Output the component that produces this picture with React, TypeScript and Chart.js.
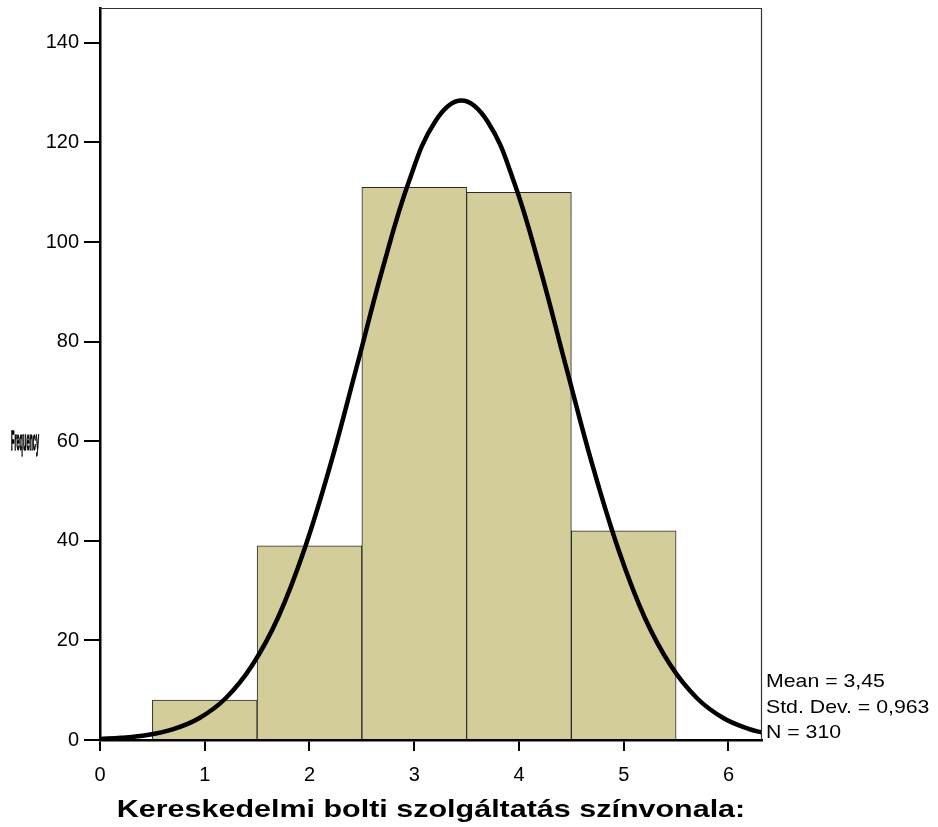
import React, { useEffect, useRef } from "react";
import { Chart, registerables } from "chart.js";

Chart.register(...registerables);

const binCenters = [1, 2, 3, 4, 5];
const binCounts = [8, 39, 111, 110, 42];

const curveX = [0, 0.2, 0.45, 0.7, 0.95, 1.2, 1.45, 1.7, 1.95, 2.2, 2.45, 2.7, 2.95, 3.2, 3.45, 3.7, 3.95, 4.2, 4.45, 4.7, 4.95, 5.2, 5.45, 5.7, 5.95, 6.2, 6.32];
const curveY = [0.21, 0.43, 1.0, 2.18, 4.42, 8.38, 14.9, 24.6, 38.2, 55.3, 74.9, 94.8, 112.2, 124.2, 128.4, 124.2, 112.2, 94.8, 74.9, 55.3, 38.2, 24.6, 14.9, 8.38, 4.42, 2.18, 1.51];

const statsLines = ["Mean = 3,45", "Std. Dev. = 0,963", "N = 310"];
const xTitle = "Kereskedelmi bolti szolgáltatás színvonala:";
const yTitle = "Frequency";

const FONT = "Arial, 'Liberation Sans', sans-serif";

const extrasPlugin = {
  id: "extras",
  afterDraw(chart: any) {
    const { ctx, chartArea } = chart;
    ctx.save();
    // top / right frame
    ctx.strokeStyle = "#333";
    ctx.lineWidth = 1.2;
    ctx.beginPath();
    ctx.moveTo(chartArea.left, chartArea.top + 0.5);
    ctx.lineTo(chartArea.right - 0.5, chartArea.top + 0.5);
    ctx.lineTo(chartArea.right - 0.5, chartArea.bottom);
    ctx.stroke();
    // stats text (horizontally stretched)
    ctx.fillStyle = "#000";
    ctx.font = `19px ${FONT}`;
    ctx.textAlign = "left";
    ctx.textBaseline = "middle";
    statsLines.forEach((t, i) => {
      ctx.save();
      ctx.translate(chartArea.right + 4, 682 + i * 25.5);
      ctx.scale(1.12, 1);
      ctx.fillText(t, 0, 0);
      ctx.restore();
    });
    // squashed y title (overprinted blob)
    ctx.font = `bold 28px ${FONT}`;
    ctx.textAlign = "left";
    ctx.strokeStyle = "#000";
    ctx.lineWidth = 1.5;
    ctx.fillText(yTitle, 11, 442, 28);
    ctx.strokeText(yTitle, 11, 442, 28);
    // x title (horizontally stretched)
    ctx.save();
    ctx.font = `bold 24px ${FONT}`;
    ctx.textAlign = "center";
    ctx.translate((chartArea.left + chartArea.right) / 2, 810);
    ctx.scale(1.27, 1);
    ctx.fillText(xTitle, 0, 0);
    ctx.restore();
    ctx.restore();
  },
};

export default function App() {
  const ref = useRef<HTMLCanvasElement>(null);
  useEffect(() => {
    document.body.style.margin = "0";
    if (!ref.current) return;
    const chart = new Chart(ref.current, {
      type: "bar",
      data: {
        datasets: [
          {
            type: "line",
            data: curveX.map((x, i) => ({ x, y: curveY[i] })),
            borderColor: "#000",
            borderWidth: 4.5,
            pointRadius: 0,
            tension: 0.4,
            fill: false,
            order: 0,
          } as any,
          {
            type: "bar",
            data: binCenters.map((x, i) => ({ x, y: binCounts[i] })),
            backgroundColor: "#d3ce99",
            borderColor: "#2a2a2a",
            borderWidth: 1,
            borderSkipped: "bottom",
            barPercentage: 1,
            categoryPercentage: 1,
            order: 1,
          } as any,
        ],
      },
      options: {
        animation: false,
        responsive: false,
        maintainAspectRatio: false,
        layout: { padding: { top: 8, right: 176, left: 0, bottom: 0 } },
        plugins: { legend: { display: false }, tooltip: { enabled: false } },
        scales: {
          x: {
            type: "linear",
            min: 0,
            max: 6.32,
            offset: false,
            ticks: {
              stepSize: 1,
              includeBounds: false,
              color: "#000",
              font: { size: 20, family: FONT },
              padding: 12,
              maxRotation: 0,
            },
            grid: {
              offset: false,
              drawOnChartArea: false,
              drawTicks: true,
              tickLength: 11,
              color: "#000",
              lineWidth: 2,
            },
            border: { display: true, color: "#000", width: 2.5 },
            afterFit(scale: any) {
              scale.height = 87;
              scale.paddingLeft = 0;
              scale.paddingRight = 0;
            },
          } as any,
          y: {
            type: "linear",
            min: 0,
            max: 147,
            ticks: {
              stepSize: 20,
              includeBounds: false,
              color: "#000",
              font: { size: 20, family: FONT },
              padding: 5,
            },
            grid: {
              drawOnChartArea: false,
              drawTicks: true,
              tickLength: 16,
              color: "#000",
              lineWidth: 2,
            },
            border: { display: true, color: "#000", width: 2.5 },
            afterFit(scale: any) {
              scale.width = 100;
              scale.paddingTop = 0;
              scale.paddingBottom = 0;
            },
          } as any,
        },
      },
      plugins: [extrasPlugin],
    });
    return () => chart.destroy();
  }, []);
  return (
    <div style={{ width: 938, height: 827 }}>
      <canvas ref={ref} width={938} height={827} style={{ display: "block" }} />
    </div>
  );
}
